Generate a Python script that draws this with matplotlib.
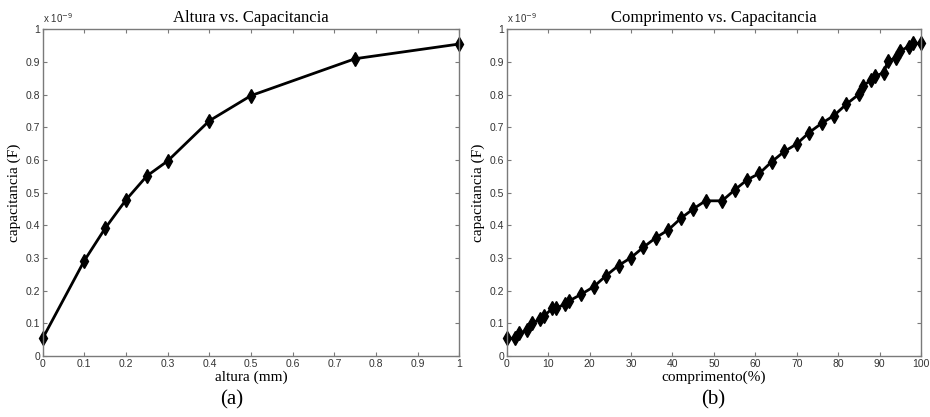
import numpy as np
import matplotlib.pyplot as plt
from matplotlib.ticker import FuncFormatter, MultipleLocator

altura = [0, 0.1, 0.15, 0.2, 0.25, 0.3, 0.4, 0.5, 0.75, 1.0]
cap_altura = np.array([0.054, 0.292, 0.391, 0.478, 0.551, 0.597, 0.72, 0.797, 0.91, 0.955]) * 1e-9

comprimento = [0, 2, 3, 5, 6, 8, 9, 11, 12, 14, 15, 18, 21, 24, 27, 30, 33, 36, 39, 42, 45,
               48, 52, 55, 58, 61, 64, 67, 70, 73, 76, 79, 82, 85, 86, 88, 89, 91, 92, 94,
               95, 97, 98, 100]
cap_comprimento = np.array([0.054, 0.054, 0.069, 0.080, 0.100, 0.112, 0.122, 0.146, 0.146,
                            0.159, 0.168, 0.189, 0.212, 0.246, 0.277, 0.301, 0.333, 0.362,
                            0.386, 0.421, 0.450, 0.475, 0.475, 0.508, 0.539, 0.559, 0.595,
                            0.626, 0.649, 0.684, 0.712, 0.736, 0.771, 0.801, 0.827, 0.845,
                            0.857, 0.867, 0.903, 0.913, 0.934, 0.947, 0.957, 0.957]) * 1e-9

SERIF = ['Liberation Serif', 'DejaVu Serif']
SANS = ['Liberation Sans', 'DejaVu Sans']
GRAY = '#7a7a7a'


def style_axes(ax, xmax, xstep):
    ax.set_xlim(0, xmax)
    ax.set_ylim(0, 1e-9)
    ax.xaxis.set_major_locator(MultipleLocator(xstep))
    ax.yaxis.set_major_locator(MultipleLocator(0.1e-9))
    ax.xaxis.set_major_formatter(FuncFormatter(lambda v, p: '%g' % round(v, 6)))
    ax.yaxis.set_major_formatter(FuncFormatter(lambda v, p: '%g' % round(v / 1e-9, 6)))
    ax.xaxis.offsetText.set_visible(False)
    ax.yaxis.offsetText.set_visible(False)
    ax.tick_params(direction='in', length=3, width=0.8, color=GRAY, top=True, right=True,
                   labelsize=7.5, labelcolor='#333333', pad=2)
    for lab in ax.get_xticklabels() + ax.get_yticklabels():
        lab.set_family(SANS)
    for s in ax.spines.values():
        s.set_color(GRAY)
        s.set_linewidth(1.0)
    ax.text(0.0, 1.012, 'x 10$^{-9}$', transform=ax.transAxes, fontsize=7,
            color='#333333', family=SANS, va='bottom', ha='left')


fig = plt.figure(figsize=(9.3, 4.17), dpi=100)
ax1 = fig.add_axes([42.7 / 930, 1 - 356 / 417, 416.6 / 930, 326.7 / 417])
ax2 = fig.add_axes([506.7 / 930, 1 - 356 / 417, 414.3 / 930, 326.7 / 417])

ax1.plot(altura, cap_altura, color='k', linewidth=2, marker='d', markersize=7,
         markerfacecolor='k', markeredgecolor='k', clip_on=False)
style_axes(ax1, 1, 0.1)
ax1.set_title('Altura vs. Capacitancia', family=SERIF, fontsize=12, pad=5)
ax1.set_xlabel('altura (mm)', family=SERIF, fontsize=11, labelpad=1)
ax1.set_ylabel('capacitancia (F)', family=SERIF, fontsize=11, labelpad=3)

ax2.plot(comprimento, cap_comprimento, color='k', linewidth=2, marker='d', markersize=7,
         markerfacecolor='k', markeredgecolor='k', clip_on=False)
style_axes(ax2, 100, 10)
ax2.set_title('Comprimento vs. Capacitancia', family=SERIF, fontsize=12, pad=5)
ax2.set_xlabel('comprimento(%)', family=SERIF, fontsize=11, labelpad=1)
ax2.set_ylabel('capacitancia (F)', family=SERIF, fontsize=11, labelpad=3)

fig.text(232 / 930, 1 - 400 / 417, '(a)', family=SERIF, fontsize=15, ha='center', va='center')
fig.text(713 / 930, 1 - 400 / 417, '(b)', family=SERIF, fontsize=15, ha='center', va='center')

fig.savefig('out.png', dpi=100)
